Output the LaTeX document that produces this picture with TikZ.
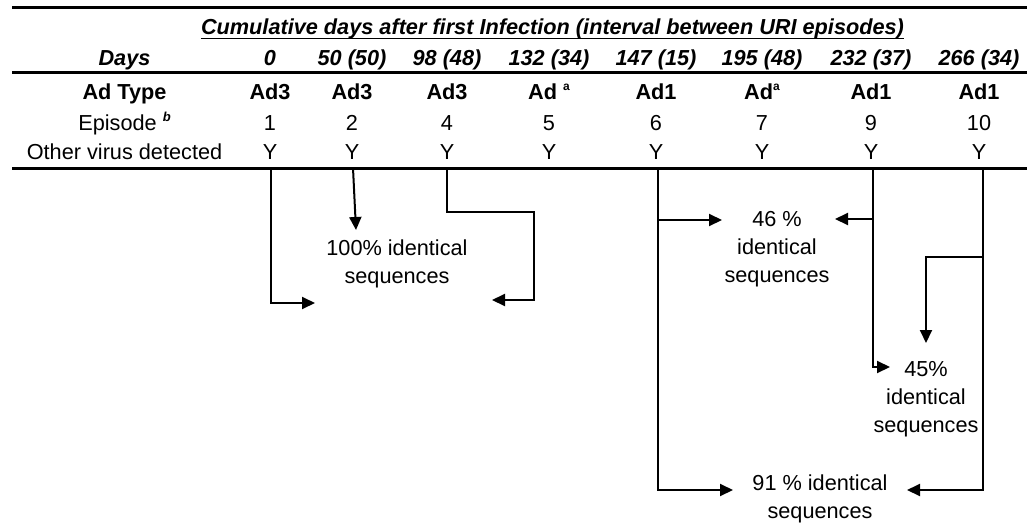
\documentclass[tikz,border=0pt]{standalone}
\usepackage{fontspec}
\setmainfont{Liberation Sans}
\usetikzlibrary{arrows.meta}
\newcommand{\supa}{\raisebox{0.42em}{\fontsize{12}{12}\selectfont a}}
\newcommand{\supb}{\raisebox{0.42em}{\fontsize{13}{13}\selectfont\bfseries\itshape b}}
\begin{document}
\begin{tikzpicture}[x=1pt,y=-1pt,
  txt/.style={inner sep=0pt, anchor=base, font=\fontsize{21.7}{26}\selectfont},
  hdr/.style={txt, font=\fontsize{21.7}{26}\selectfont\bfseries\itshape},
  bld/.style={txt, font=\fontsize{21.7}{26}\selectfont\bfseries},
  lbl/.style={txt, align=center, font=\fontsize{21.7}{27.8}\selectfont},
  rulestyle/.style={line width=3pt},
  conn/.style={line width=2pt},
  arr/.style={conn, -{Triangle[length=13pt,width=12pt]}}]
\useasboundingbox (0,0) rectangle (1029,525);

% rules
\draw[rulestyle] (12,7) -- (1027,7);
\draw[rulestyle] (12,72) -- (1027,72);
\draw[rulestyle] (12,168) -- (1027,168);

% header
\node[hdr] (cum) at (552.5,34) {Cumulative days after first Infection (interval between URI episodes)};
\draw[line width=1.6pt] ([yshift=-4.5pt]cum.base west) -- ([yshift=-4.5pt]cum.base east);

% row labels
\node[hdr] (days) at (124.5,65.5) {Days};
\node[bld] (adtype) at (124.5,99.5) {Ad Type};
\node[txt] (episode) at (124.5,130.5) {Episode \supb};
\node[txt] (other) at (124.5,159.5) {Other virus detected};

% days row
\node[hdr] (d0) at (270,65.5) {0};
\node[hdr] (d1) at (352,65.5) {50 (50)};
\node[hdr] (d2) at (447,65.5) {98 (48)};
\node[hdr] (d3) at (549,65.5) {132 (34)};
\node[hdr] (d4) at (656,65.5) {147 (15)};
\node[hdr] (d5) at (762,65.5) {195 (48)};
\node[hdr] (d6) at (871,65.5) {232 (37)};
\node[hdr] (d7) at (979,65.5) {266 (34)};

% ad type row
\node[bld] (a0) at (270,99.5) {Ad3};
\node[bld] (a1) at (352,99.5) {Ad3};
\node[bld] (a2) at (447,99.5) {Ad3};
\node[bld] (a3) at (549,99.5) {Ad \supa};
\node[bld] (a4) at (656,99.5) {Ad1};
\node[bld] (a5) at (762,99.5) {Ad\supa};
\node[bld] (a6) at (871,99.5) {Ad1};
\node[bld] (a7) at (979,99.5) {Ad1};

% episode row
\node[txt] (e0) at (270,130.5) {1};
\node[txt] (e1) at (352,130.5) {2};
\node[txt] (e2) at (447,130.5) {4};
\node[txt] (e3) at (549,130.5) {5};
\node[txt] (e4) at (656,130.5) {6};
\node[txt] (e5) at (762,130.5) {7};
\node[txt] (e6) at (871,130.5) {9};
\node[txt] (e7) at (979,130.5) {10};

% other virus row
\foreach \n/\x in {0/270,1/352,2/447,3/549,4/656,5/762,6/871,7/979}
  \node[txt] (y\n) at (\x,159.5) {Y};

% result labels (base = baseline of last line)
\node[lbl] (r100) at (397,283) {100\% identical\\sequences};
\node[lbl] (r46) at (777,282) {46 \%\\identical\\sequences};
\node[lbl] (r45) at (926,432) {45\%\\identical\\sequences};
\node[lbl] (r91) at (820,518) {91 \% identical\\sequences};

% connector coordinates
\coordinate (s0) at (271,168);
\coordinate (s1) at (353,168);
\coordinate (s2) at (447,168);
\coordinate (s4) at (658,168);
\coordinate (s6) at (873,168);
\coordinate (s7) at (983,168);

\coordinate (t0) at (315,303);
\coordinate (t1) at (356,230);
\coordinate (k2a) at (447,212);
\coordinate (k2b) at (534,212);
\coordinate (k2c) at (534,300);
\coordinate (t2) at (492,300);
\coordinate (j4) at (658,220);
\coordinate (t4a) at (722,220);
\coordinate (t4b) at (733,490);
\coordinate (j6) at (873,219);
\coordinate (t6a) at (835,219);
\coordinate (t6b) at (890,367);
\coordinate (j7) at (983,257);
\coordinate (t7a) at (926,343);
\coordinate (t7b) at (907,490);

% connectors
\draw[arr] (s0) |- (t0);
\draw[arr] (s1) -- (t1);
\draw[arr] (s2) -- (k2a) -- (k2b) -- (k2c) -- (t2);
\draw[arr] (s4) |- (t4b);
\draw[arr] (j4) -- (t4a);
\draw[arr] (s6) |- (t6b);
\draw[arr] (j6) -- (t6a);
\draw[arr] (s7) |- (t7b);
\draw[arr] (j7) -| (t7a);
\end{tikzpicture}
\end{document}
